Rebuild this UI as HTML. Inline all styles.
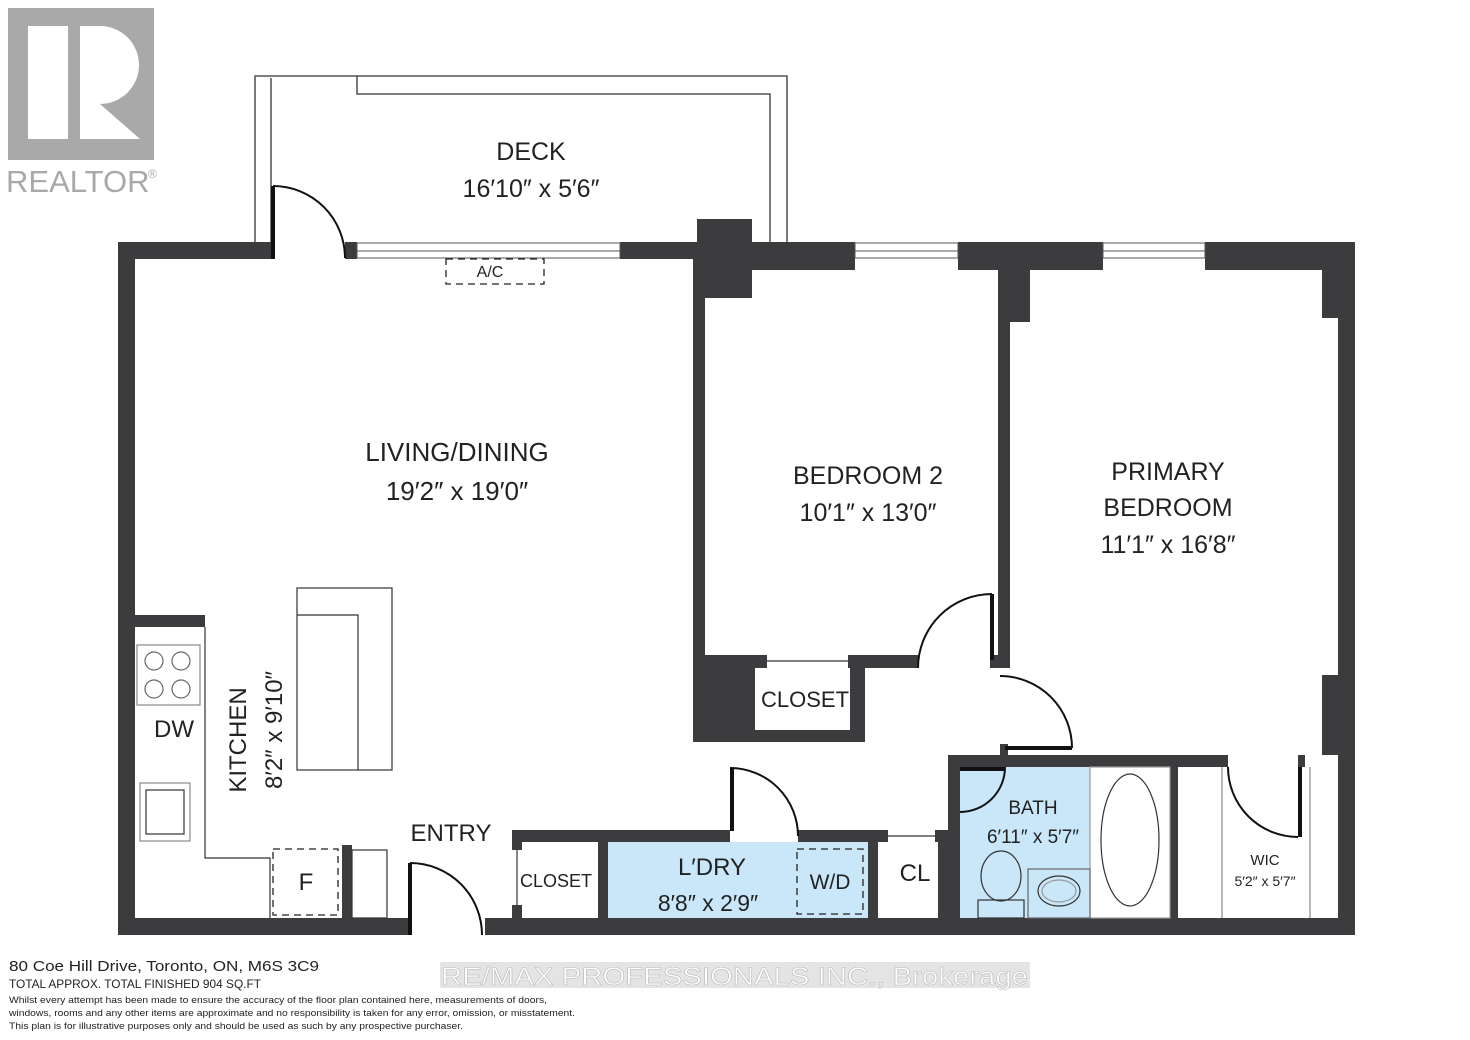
<!DOCTYPE html>
<html><head><style>
body{margin:0;background:#fff}
svg{display:block}
text{font-family:"Liberation Sans",sans-serif;fill:#222}
</style></head><body>
<svg width="1470" height="1040" viewBox="0 0 1470 1040" xmlns="http://www.w3.org/2000/svg">
<rect x="8" y="8" width="146" height="152" fill="#a9a9a9"/>
<rect x="28" y="26" width="40" height="113" fill="#fff"/>
<path d="M80 26 H100 A38 38 0 0 1 100 104 L140 139 H80 Z" fill="#fff"/>
<text x="6" y="192" font-size="31" style="fill:#a9a9a9">REALTOR</text>
<text x="148" y="178" font-size="12" style="fill:#a9a9a9">®</text>

<g fill="none" stroke="#333" stroke-width="1.3">
<path d="M255 242 V76 H787 V242"/>
<path d="M271 242 V78"/>
<path d="M357 76 V94 H770 V242"/>
</g>
<text x="531" y="160" font-size="25" text-anchor="middle">DECK</text>
<text x="531" y="197" font-size="25" text-anchor="middle">16′10″ x 5′6″</text>

<g fill="#3c3c3e">
<rect x="118" y="242" width="155" height="17"/>
<rect x="345" y="242" width="12" height="17"/>
<rect x="620" y="242" width="80" height="17"/>
<rect x="697" y="219" width="55" height="79"/>
<rect x="752" y="242" width="103" height="28"/>
<rect x="958" y="242" width="145" height="28"/>
<rect x="1205" y="242" width="150" height="28"/>
<rect x="118" y="242" width="17" height="693"/>
<rect x="1338" y="242" width="17" height="693"/>
<rect x="1322" y="270" width="17" height="48"/>
<rect x="1322" y="675" width="17" height="80"/>
<rect x="118" y="918" width="292" height="17"/>
<rect x="485" y="918" width="870" height="17"/>
<rect x="693" y="259" width="12" height="483"/>
<rect x="998" y="270" width="12" height="398"/>
<rect x="1010" y="270" width="20" height="52"/>
<rect x="693" y="655" width="62" height="87"/>
<rect x="693" y="730" width="172" height="12"/>
<rect x="850" y="655" width="15" height="87"/>
<rect x="755" y="655" width="12" height="13"/>
<rect x="848" y="655" width="70" height="13"/>
<rect x="990" y="655" width="10" height="13"/>
<rect x="948" y="755" width="280" height="12"/>
<rect x="948" y="755" width="12" height="163"/>
<rect x="1170" y="767" width="8" height="151"/>
<rect x="1298" y="755" width="7" height="12"/>
<rect x="1000" y="744" width="8" height="11"/>
<rect x="512" y="830" width="218" height="12"/>
<rect x="798" y="830" width="90" height="12"/>
<rect x="512" y="830" width="10" height="20"/>
<rect x="512" y="905" width="10" height="13"/>
<rect x="598" y="842" width="10" height="76"/>
<rect x="868" y="842" width="10" height="76"/>
<rect x="935" y="830" width="13" height="12"/>
<rect x="938" y="842" width="10" height="76"/>
<rect x="135" y="615" width="70" height="12"/>
<rect x="342" y="845" width="10" height="73"/>
</g>

<g fill="#fff" stroke="#555" stroke-width="1">
<rect x="357" y="243" width="263" height="15"/>
<rect x="855" y="243" width="103" height="15"/>
<rect x="1103" y="243" width="102" height="15"/>
</g>
<g stroke="#555" stroke-width="1">
<line x1="357" y1="251" x2="620" y2="251"/>
<line x1="855" y1="251" x2="958" y2="251"/>
<line x1="1103" y1="251" x2="1205" y2="251"/>
</g>

<rect x="608" y="842" width="260" height="76" fill="#c9e7f8"/>
<rect x="960" y="767" width="130" height="151" fill="#c9e7f8"/>

<g fill="none" stroke="#111" stroke-width="2">
<path d="M273 186 A72 72 0 0 1 345 258"/>
<path d="M410 863 A72 72 0 0 1 482 935"/>
<path d="M730 768 A68 68 0 0 1 798 836"/>
<path d="M918 668 A74 74 0 0 1 992 594"/>
<path d="M1072 748 A72 72 0 0 0 1000 676"/>
<path d="M1005 767 A45 45 0 0 1 960 812"/>
<path d="M1228 767 A70 70 0 0 0 1298 837"/>
</g>
<g stroke="#111" stroke-width="4">
<line x1="273" y1="186" x2="273" y2="259"/>
<line x1="410" y1="863" x2="410" y2="935"/>
<line x1="732" y1="768" x2="732" y2="831"/>
<line x1="992" y1="594" x2="992" y2="660"/>
<line x1="1005" y1="748" x2="1072" y2="748"/>
<line x1="960" y1="769" x2="1005" y2="769"/>
<line x1="1300" y1="767" x2="1300" y2="837"/>
</g>

<g fill="none" stroke="#333" stroke-width="1.2">
<line x1="767" y1="661" x2="850" y2="661"/>
<line x1="888" y1="836" x2="935" y2="836"/>
<line x1="517" y1="850" x2="517" y2="905"/>
<path d="M205 627 V858 H270 V918"/>
<rect x="352" y="850" width="35" height="68"/>
<rect x="297" y="588" width="95" height="182"/>
<path d="M297 615 H358 V770"/>
<rect x="1090" y="767" width="80" height="151" stroke="#999"/>
<ellipse cx="1130" cy="840" rx="29" ry="66"/>
<rect x="1028" y="869" width="62" height="49" stroke="#666"/>
<ellipse cx="1059" cy="891" rx="21" ry="15"/>
<ellipse cx="1059" cy="891" rx="17" ry="11" stroke="#999"/>
<ellipse cx="1001" cy="876" rx="20" ry="25"/>
<rect x="978" y="900" width="46" height="18"/>
<line x1="1222" y1="767" x2="1222" y2="918" stroke="#888"/>
<line x1="1310" y1="767" x2="1310" y2="918" stroke="#888"/>
<rect x="137" y="645" width="63" height="60" stroke="#888"/>
<circle cx="154" cy="661" r="9" stroke="#666"/>
<circle cx="181" cy="661" r="9" stroke="#666"/>
<circle cx="154" cy="689" r="9" stroke="#666"/>
<circle cx="181" cy="689" r="9" stroke="#666"/>
<rect x="140" y="783" width="50" height="58" stroke="#888"/>
<rect x="146" y="790" width="38" height="44"/>
</g>
<g fill="none" stroke="#222" stroke-width="1.3" stroke-dasharray="7,5">
<rect x="446" y="259" width="98" height="25"/>
<rect x="273" y="849" width="65" height="66"/>
<rect x="797" y="849" width="66" height="65"/>
</g>

<text x="490" y="277" font-size="16" text-anchor="middle">A/C</text>
<text x="457" y="461" font-size="26" text-anchor="middle">LIVING/DINING</text>
<text x="457" y="500" font-size="26" text-anchor="middle">19′2″ x 19′0″</text>
<text x="868" y="484" font-size="25" text-anchor="middle">BEDROOM 2</text>
<text x="868" y="521" font-size="25" text-anchor="middle">10′1″ x 13′0″</text>
<text x="1168" y="480" font-size="25" text-anchor="middle">PRIMARY</text>
<text x="1168" y="516" font-size="25" text-anchor="middle">BEDROOM</text>
<text x="1168" y="553" font-size="25" text-anchor="middle">11′1″ x 16′8″</text>
<text x="805" y="707" font-size="22" text-anchor="middle">CLOSET</text>
<text x="174" y="737" font-size="24" text-anchor="middle">DW</text>
<text transform="translate(246,740) rotate(-90)" font-size="24" text-anchor="middle">KITCHEN</text>
<text transform="translate(282,730) rotate(-90)" font-size="24" text-anchor="middle">8′2″ x 9′10″</text>
<text x="451" y="841" font-size="24" text-anchor="middle">ENTRY</text>
<text x="306" y="890" font-size="24" text-anchor="middle">F</text>
<text x="556" y="887" font-size="18" text-anchor="middle">CLOSET</text>
<text x="712" y="875" font-size="24" text-anchor="middle">L′DRY</text>
<text x="708" y="911" font-size="23" text-anchor="middle">8′8″ x 2′9″</text>
<text x="830" y="889" font-size="21" text-anchor="middle">W/D</text>
<text x="915" y="881" font-size="24" text-anchor="middle">CL</text>
<text x="1033" y="814" font-size="19" text-anchor="middle">BATH</text>
<text x="1033" y="843" font-size="19" text-anchor="middle">6′11″ x 5′7″</text>
<text x="1265" y="865" font-size="15" text-anchor="middle">WIC</text>
<text x="1265" y="886" font-size="14" text-anchor="middle">5′2″ x 5′7″</text>

<text x="9" y="971" font-size="15" textLength="310" lengthAdjust="spacingAndGlyphs">80 Coe Hill Drive, Toronto, ON, M6S 3C9</text>
<text x="9" y="988" font-size="12" textLength="252" lengthAdjust="spacingAndGlyphs">TOTAL APPROX.  TOTAL FINISHED 904 SQ.FT</text>
<text x="9" y="1003" font-size="9.3" textLength="538" lengthAdjust="spacingAndGlyphs">Whilst every attempt has been made to ensure the accuracy of the floor plan contained here, measurements of doors,</text>
<text x="9" y="1016" font-size="9.3" textLength="566" lengthAdjust="spacingAndGlyphs">windows, rooms and any other items are approximate and no responsibility is taken for any error, omission, or misstatement.</text>
<text x="9" y="1029" font-size="9.3" textLength="454" lengthAdjust="spacingAndGlyphs">This plan is for illustrative purposes only and should be used as such by any prospective purchaser.</text>
<rect x="440" y="962" width="590" height="26" fill="#e4e4e4"/>
<text x="441" y="985" font-size="25" textLength="587" lengthAdjust="spacingAndGlyphs" style="fill:#fff;stroke:#bbb;stroke-width:0.6">RE/MAX PROFESSIONALS INC., Brokerage</text>
</svg>
</body></html>
